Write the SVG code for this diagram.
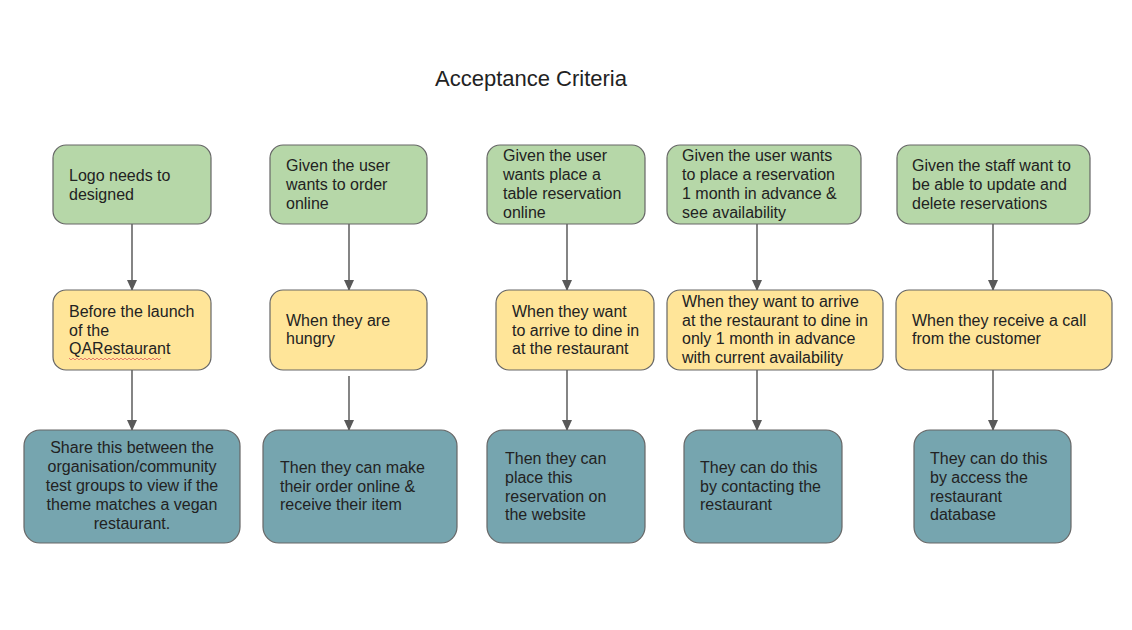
<svg xmlns="http://www.w3.org/2000/svg" width="1132" height="630" viewBox="0 0 1132 630">
<defs>
<style>
.t{font-family:"Liberation Sans",Arial,sans-serif;font-size:16px;fill:#222}
.g{fill:#b6d7a8;stroke:#666;stroke-width:1.2}
.y{fill:#ffe599;stroke:#666;stroke-width:1.2}
.b{fill:#76a5af;stroke:#666;stroke-width:1.2}
.c{stroke:#666;stroke-width:1.6;fill:none;marker-end:url(#ah)}
</style>
<marker id="ah" markerUnits="userSpaceOnUse" markerWidth="11" markerHeight="12" refX="10" refY="5" orient="auto">
<path d="M0,0 L11,5 L0,10 Z" fill="#595959"/>
</marker>
</defs>
<rect width="1132" height="630" fill="#fff"/>
<text x="435" y="86" style="font-family:'Liberation Sans',Arial,sans-serif;font-size:22px;fill:#222">Acceptance Criteria</text>

<g id="connectors">
<line class="c" x1="132" y1="224" x2="132" y2="290"/>
<line class="c" x1="132" y1="370" x2="132" y2="430"/>
<line class="c" x1="349" y1="224" x2="349" y2="290"/>
<line class="c" x1="349" y1="376" x2="349" y2="430"/>
<line class="c" x1="567" y1="224" x2="567" y2="290"/>
<line class="c" x1="567" y1="370" x2="567" y2="430"/>
<line class="c" x1="757" y1="224" x2="757" y2="290"/>
<line class="c" x1="757" y1="370" x2="757" y2="430"/>
<line class="c" x1="993" y1="224" x2="993" y2="290"/>
<line class="c" x1="993" y1="370" x2="993" y2="430"/>
</g>

<g id="g1"><rect class="g" x="53" y="145" width="158" height="79" rx="13"/>
<text class="t"><tspan x="69" y="181">Logo needs to</tspan><tspan x="69" y="200">designed</tspan></text></g>
<g id="g2"><rect class="g" x="270" y="145" width="157" height="79" rx="13"/>
<text class="t"><tspan x="286" y="171">Given the user</tspan><tspan x="286" y="190">wants to order</tspan><tspan x="286" y="209">online</tspan></text></g>
<g id="g3"><rect class="g" x="487" y="145" width="158" height="79" rx="13"/>
<text class="t"><tspan x="503" y="161">Given the user</tspan><tspan x="503" y="180">wants place a</tspan><tspan x="503" y="199">table reservation</tspan><tspan x="503" y="218">online</tspan></text></g>
<g id="g4"><rect class="g" x="667" y="145" width="194" height="79" rx="13"/>
<text class="t"><tspan x="682" y="161">Given the user wants</tspan><tspan x="682" y="180">to place a reservation</tspan><tspan x="682" y="199">1 month in advance &amp;</tspan><tspan x="682" y="218">see availability</tspan></text></g>
<g id="g5"><rect class="g" x="897" y="145" width="193" height="79" rx="13"/>
<text class="t"><tspan x="912" y="171">Given the staff want to</tspan><tspan x="912" y="190">be able to update and</tspan><tspan x="912" y="209">delete reservations</tspan></text></g>

<g id="y1"><rect class="y" x="53" y="290" width="158" height="80" rx="13"/>
<text class="t"><tspan x="69" y="317">Before the launch</tspan><tspan x="69" y="336">of the</tspan><tspan x="69" y="354">QARestaurant</tspan></text>
<path d="M69,358 l2,2 l2,-2 l2,2 l2,-2 l2,2 l2,-2 l2,2 l2,-2 l2,2 l2,-2 l2,2 l2,-2 l2,2 l2,-2 l2,2 l2,-2 l2,2 l2,-2 l2,2 l2,-2 l2,2 l2,-2 l2,2 l2,-2 l2,2 l2,-2 l2,2 l2,-2 l2,2 l2,-2 l2,2 l2,-2 l2,2 l2,-2 l2,2 l2,-2 l2,2 l2,-2 l2,2 l2,-2 l2,2 l2,-2 l2,2 l2,-2 l2,2 l2,-2" fill="none" stroke="#e06060" stroke-width="0.8"/></g>
<g id="y2"><rect class="y" x="270" y="290" width="157" height="80" rx="13"/>
<text class="t"><tspan x="286" y="326">When they are</tspan><tspan x="286" y="344">hungry</tspan></text></g>
<g id="y3"><rect class="y" x="496" y="290" width="158" height="80" rx="13"/>
<text class="t"><tspan x="512" y="317">When they want</tspan><tspan x="512" y="336">to arrive to dine in</tspan><tspan x="512" y="354">at the restaurant</tspan></text></g>
<g id="y4"><rect class="y" x="667" y="290" width="216" height="80" rx="13"/>
<text class="t"><tspan x="682" y="307">When they want to arrive</tspan><tspan x="682" y="326">at the restaurant to dine in</tspan><tspan x="682" y="344">only 1 month in advance</tspan><tspan x="682" y="363">with current availability</tspan></text></g>
<g id="y5"><rect class="y" x="896" y="290" width="216" height="80" rx="13"/>
<text class="t"><tspan x="912" y="326">When they receive a call</tspan><tspan x="912" y="344">from the customer</tspan></text></g>

<g id="b1"><rect class="b" x="24" y="430" width="216" height="113" rx="16"/>
<text class="t" text-anchor="middle"><tspan x="132" y="453">Share this between the</tspan><tspan x="132" y="472">organisation/community</tspan><tspan x="132" y="491">test groups to view if the</tspan><tspan x="132" y="510">theme matches a vegan</tspan><tspan x="132" y="529">restaurant.</tspan></text></g>
<g id="b2"><rect class="b" x="263" y="430" width="194" height="113" rx="16"/>
<text class="t"><tspan x="280" y="473">Then they can make</tspan><tspan x="280" y="492">their order online &amp;</tspan><tspan x="280" y="510">receive their item</tspan></text></g>
<g id="b3"><rect class="b" x="487" y="430" width="158" height="113" rx="16"/>
<text class="t"><tspan x="505" y="464">Then they can</tspan><tspan x="505" y="483">place this</tspan><tspan x="505" y="502">reservation on</tspan><tspan x="505" y="520">the website</tspan></text></g>
<g id="b4"><rect class="b" x="684" y="430" width="158" height="113" rx="16"/>
<text class="t"><tspan x="700" y="473">They can do this</tspan><tspan x="700" y="492">by contacting the</tspan><tspan x="700" y="510">restaurant</tspan></text></g>
<g id="b5"><rect class="b" x="914" y="430" width="157" height="113" rx="16"/>
<text class="t"><tspan x="930" y="464">They can do this</tspan><tspan x="930" y="483">by access the</tspan><tspan x="930" y="502">restaurant</tspan><tspan x="930" y="520">database</tspan></text></g>
</svg>
